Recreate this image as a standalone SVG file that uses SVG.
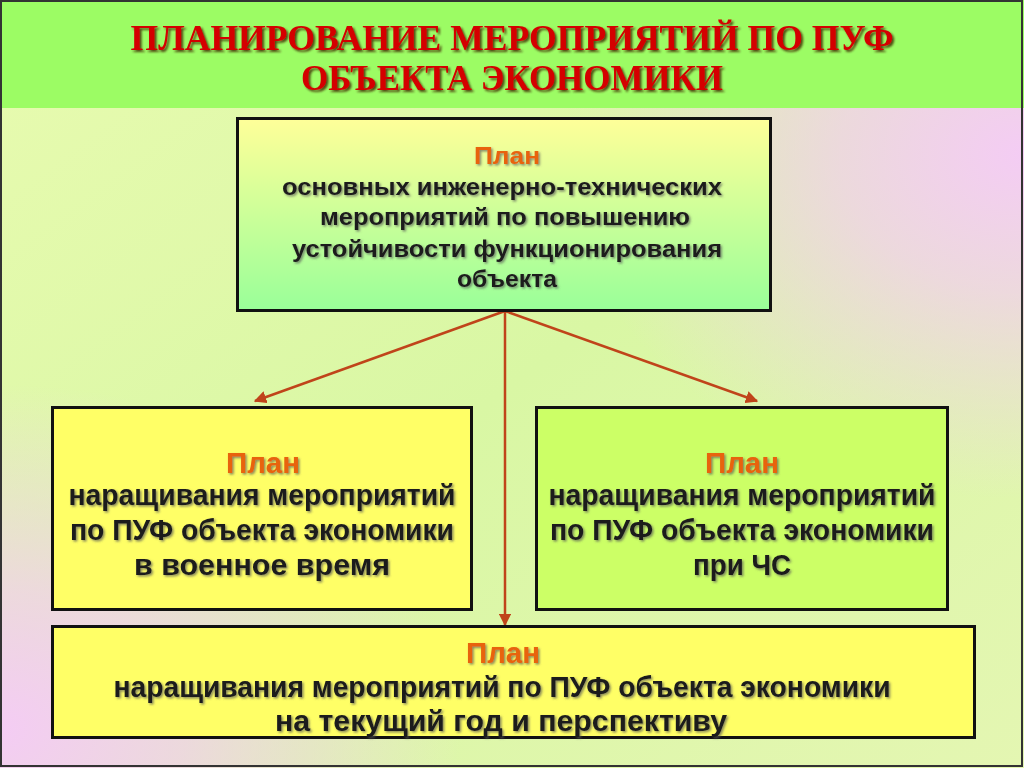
<svg xmlns="http://www.w3.org/2000/svg" width="1024" height="768" viewBox="0 0 1024 768">
<style>
.title{font-family:"Liberation Serif",serif;font-weight:bold;fill:#d40000;text-anchor:middle}
.plan{font-family:"Liberation Sans",Arial,sans-serif;font-weight:bold;fill:#e8640a;text-anchor:middle}
.body{font-family:"Liberation Sans",Arial,sans-serif;font-weight:bold;fill:#1a1a1a;text-anchor:middle}
.box{stroke:#111;stroke-width:3}
.conn{stroke:#c0441a;stroke-width:2.5;fill:none}
</style>
<defs>
<linearGradient id="bg" x1="0" y1="0" x2="1" y2="1">
<stop offset="0" stop-color="#e8fbb0"/>
<stop offset="0.5" stop-color="#d9f7a4"/>
<stop offset="1" stop-color="#e4f6b2"/>
</linearGradient>
<radialGradient id="pinkR" cx="1" cy="0.2" r="0.45">
<stop offset="0" stop-color="#f4ccf4" stop-opacity="1"/>
<stop offset="0.4" stop-color="#f4ccf4" stop-opacity="0.7"/>
<stop offset="1" stop-color="#f4ccf4" stop-opacity="0"/>
</radialGradient>
<radialGradient id="pinkL" cx="0" cy="0.95" r="0.45">
<stop offset="0" stop-color="#f4ccf4" stop-opacity="1"/>
<stop offset="0.4" stop-color="#f4ccf4" stop-opacity="0.7"/>
<stop offset="1" stop-color="#f4ccf4" stop-opacity="0"/>
</radialGradient>
<linearGradient id="topfill" x1="0" y1="0" x2="0" y2="1">
<stop offset="0" stop-color="#ffff99"/>
<stop offset="1" stop-color="#99ff99"/>
</linearGradient>
<filter id="sh" x="-5%" y="-20%" width="110%" height="140%">
<feDropShadow dx="1.5" dy="1.5" stdDeviation="0.8" flood-color="#555" flood-opacity="0.7"/>
</filter>
<filter id="tsh" x="-5%" y="-20%" width="110%" height="140%">
<feDropShadow dx="2" dy="2" stdDeviation="0.8" flood-color="#402000" flood-opacity="0.8"/>
</filter>
<marker id="arr" viewBox="0 0 10 10" refX="9" refY="5" markerWidth="5" markerHeight="5" orient="auto" markerUnits="strokeWidth">
<path d="M0,0 L10,5 L0,10 z" fill="#c0441a"/>
</marker>
</defs>
<rect width="1024" height="768" fill="url(#bg)"/>
<rect width="1024" height="768" fill="url(#pinkR)"/>
<rect width="1024" height="768" fill="url(#pinkL)"/>
<rect x="0" y="0" width="1024" height="108" fill="#9cfc64"/>
<rect x="1" y="1" width="1021" height="765" fill="none" stroke="#333" stroke-width="2"/>
<g id="title" filter="url(#tsh)">
<text class="title" x="512" y="50" font-size="36" textLength="763" lengthAdjust="spacingAndGlyphs">ПЛАНИРОВАНИЕ  МЕРОПРИЯТИЙ  ПО  ПУФ</text>
<text class="title" x="512" y="90" font-size="36" textLength="422" lengthAdjust="spacingAndGlyphs">ОБЪЕКТА  ЭКОНОМИКИ</text>
</g>
<g id="connectors">
<line class="conn" x1="505" y1="311" x2="255" y2="401" marker-end="url(#arr)"/>
<line class="conn" x1="505" y1="311" x2="757" y2="401" marker-end="url(#arr)"/>
<line class="conn" x1="505" y1="311" x2="505" y2="625" marker-end="url(#arr)"/>
</g>
<g id="node-top">
<rect class="box" x="237.5" y="118.5" width="533" height="192" fill="url(#topfill)"/>
<g filter="url(#sh)">
<text class="plan" x="507" y="164" font-size="23" textLength="66" lengthAdjust="spacingAndGlyphs">План</text>
<text class="body" x="502" y="195" font-size="23" textLength="440" lengthAdjust="spacingAndGlyphs">основных инженерно-технических</text>
<text class="body" x="505" y="225" font-size="23" textLength="370" lengthAdjust="spacingAndGlyphs">мероприятий по повышению</text>
<text class="body" x="507" y="257" font-size="23" textLength="430" lengthAdjust="spacingAndGlyphs">устойчивости функционирования</text>
<text class="body" x="507" y="287" font-size="23" textLength="100" lengthAdjust="spacingAndGlyphs">объекта</text>
</g>
</g>
<g id="node-left">
<rect class="box" x="52.5" y="407.5" width="419" height="202" fill="#ffff66"/>
<g filter="url(#sh)">
<text class="plan" x="263" y="473" font-size="30" textLength="74" lengthAdjust="spacingAndGlyphs">План</text>
<text class="body" x="262" y="505" font-size="29" textLength="387" lengthAdjust="spacingAndGlyphs">наращивания мероприятий</text>
<text class="body" x="262" y="540" font-size="29" textLength="384" lengthAdjust="spacingAndGlyphs">по ПУФ объекта экономики</text>
<text class="body" x="262" y="575" font-size="29" textLength="256" lengthAdjust="spacingAndGlyphs">в  военное  время</text>
</g>
</g>
<g id="node-right">
<rect class="box" x="536.5" y="407.5" width="411" height="202" fill="#ccff66"/>
<g filter="url(#sh)">
<text class="plan" x="742" y="473" font-size="30" textLength="74" lengthAdjust="spacingAndGlyphs">План</text>
<text class="body" x="742" y="505" font-size="29" textLength="387" lengthAdjust="spacingAndGlyphs">наращивания мероприятий</text>
<text class="body" x="742" y="540" font-size="29" textLength="384" lengthAdjust="spacingAndGlyphs">по ПУФ объекта экономики</text>
<text class="body" x="742" y="575" font-size="29" textLength="98" lengthAdjust="spacingAndGlyphs">при ЧС</text>
</g>
</g>
<g id="node-bottom">
<rect class="box" x="52.5" y="626.5" width="922" height="111" fill="#ffff66"/>
<g filter="url(#sh)">
<text class="plan" x="503" y="663" font-size="30" textLength="74" lengthAdjust="spacingAndGlyphs">План</text>
<text class="body" x="502" y="697" font-size="29" textLength="777" lengthAdjust="spacingAndGlyphs">наращивания мероприятий по ПУФ объекта экономики</text>
<text class="body" x="501" y="731" font-size="29" textLength="452" lengthAdjust="spacingAndGlyphs">на  текущий  год  и  перспективу</text>
</g>
</g>
</svg>
